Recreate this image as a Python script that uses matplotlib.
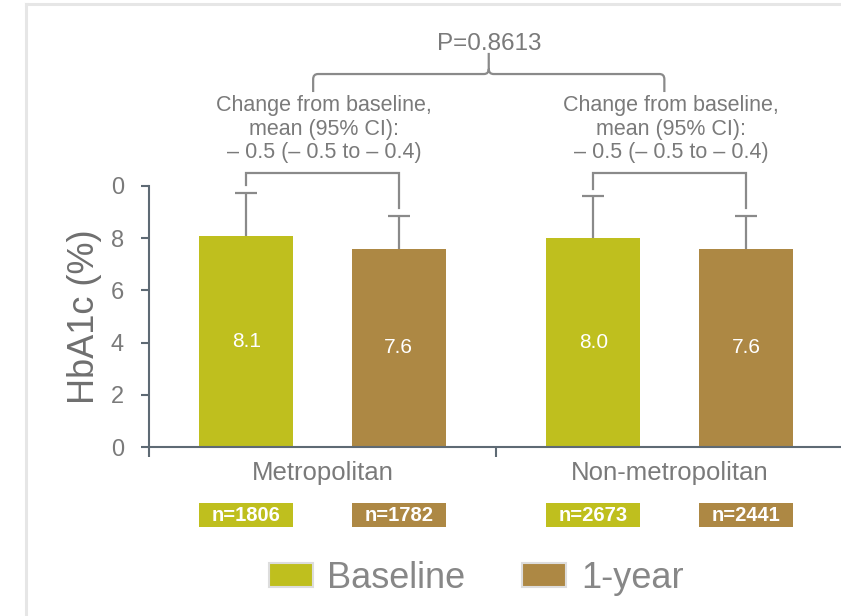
import numpy as np
import matplotlib.pyplot as plt
from matplotlib.patches import Patch, Rectangle, PathPatch
from matplotlib.path import Path
from matplotlib.lines import Line2D

plt.rcParams['font.family'] = ['Liberation Sans', 'DejaVu Sans']

# HbA1c by region, baseline vs 1 year
groups = ['Metropolitan', 'Non-metropolitan']
series = ['Baseline', '1-year']
means = [[8.1, 8.0],   # Baseline
         [7.6, 7.6]]   # 1-year
upper_err = [[1.63, 1.6],
             [1.25, 1.25]]
n_labels = [['n=1806', 'n=2673'],
            ['n=1782', 'n=2441']]
change_text = ['Change from baseline,\nmean (95% CI):\n\u2013 0.5 (\u2013 0.5 to \u2013 0.4)',
               'Change from baseline,\nmean (95% CI):\n\u2013 0.5 (\u2013 0.5 to \u2013 0.4)']
p_text = 'P=0.8613'
yticks = [0, 2, 4, 6, 8, 10]
ytick_labels = ['0', '2', '4', '6', '8', '0']

colors = ['#BFBF1E', '#AD8844']
gray = '#7A7A7A'
line_gray = '#8A8A8A'
spine = '#5E6A74'

fig = plt.figure(figsize=(8.41, 6.16), dpi=100)
ax = fig.add_axes([149 / 841, 169 / 616, 1 - 149 / 841, 261 / 616])

x = np.arange(len(groups))
offset = 0.22
width = 0.27

for i, s in enumerate(series):
    pos = x + (2 * i - 1) * offset
    ax.bar(pos, means[i], width, color=colors[i], zorder=2)
    _, caps, _ = ax.errorbar(pos, means[i],
                             yerr=[np.zeros(len(groups)), upper_err[i]],
                             fmt='none', ecolor=line_gray, elinewidth=1.6,
                             capsize=8, capthick=1.6, zorder=1)
    caps[0].set_visible(False)  # only the upper whisker gets a cap
    for j in range(len(groups)):
        ax.text(pos[j], means[i][j] / 2, f'{means[i][j]:.1f}', color='white',
                ha='center', va='center', fontsize=15)
        # sample size tag under the axis
        ax.add_patch(Rectangle((pos[j] - width / 2, -3.07), width, 0.92,
                               facecolor=colors[i], edgecolor='none',
                               clip_on=False))
        ax.text(pos[j], -2.61, n_labels[i][j], color='white', ha='center',
                va='center', fontsize=14.5, fontweight='bold', clip_on=False)

# brackets joining baseline and 1-year in each group
for j in range(len(groups)):
    xl, xr = x[j] - offset, x[j] + offset
    yl = means[0][j] + upper_err[0][j] + 0.3
    yr = means[1][j] + upper_err[1][j] + 0.3
    ax.plot([xl, xl, xr, xr], [yl, 10.5, 10.5, yr], color=line_gray,
            lw=1.6, clip_on=False, solid_joinstyle='miter')
    ax.text(x[j] + 0.005, 12.18, change_text[j], ha='center', va='center',
            fontsize=15.5, color=gray, linespacing=1.17, clip_on=False)

# curly brace over both groups
x0, x1 = x[0] - 0.027, x[1] - 0.015
xm = (x0 + x1) / 2
yb, yh, ytop = 13.6, 14.29, 15.1
dx, dy = 0.014, 0.2
verts = [(x0, yb), (x0, yh - dy), (x0, yh), (x0 + dx, yh),
         (xm - dx, yh), (xm, yh), (xm, yh + dy), (xm, ytop),
         (x1, yb), (x1, yh - dy), (x1, yh), (x1 - dx, yh),
         (xm + dx, yh), (xm, yh), (xm, yh + dy)]
codes = [Path.MOVETO, Path.LINETO, Path.CURVE3, Path.CURVE3,
         Path.LINETO, Path.CURVE3, Path.CURVE3, Path.LINETO,
         Path.MOVETO, Path.LINETO, Path.CURVE3, Path.CURVE3,
         Path.LINETO, Path.CURVE3, Path.CURVE3]
ax.add_patch(PathPatch(Path(verts, codes), facecolor='none',
                       edgecolor=line_gray, lw=1.6, clip_on=False))
ax.text(xm + 0.0, 15.44, p_text, ha='center', va='center', fontsize=17.5,
        color=gray, clip_on=False)

ax.set_xlim(-0.5, 1.494)
ax.set_ylim(0, 10)
ax.set_yticks(yticks)
ax.set_yticklabels(ytick_labels)
ax.set_xticks(x)
ax.set_xticklabels(groups)
ax.set_xticks([-0.5, 0.5], minor=True)
ax.tick_params(axis='x', which='major', length=0, pad=10, labelsize=18.5,
               labelcolor=gray)
ax.tick_params(axis='x', which='minor', length=7, width=1.5, color=spine,
               direction='out')
ax.tick_params(axis='y', length=6, width=1.5, color=spine, pad=12,
               labelsize=17, labelcolor=gray)
ax.set_ylabel('HbA1c (%)', fontsize=26, color='#6F6F6F', labelpad=6)

for side in ['top', 'right']:
    ax.spines[side].set_visible(False)
for side in ['left', 'bottom']:
    ax.spines[side].set_color(spine)
    ax.spines[side].set_linewidth(1.5)

handles = [Patch(facecolor=c, edgecolor='#DDDDDD', lw=1.5) for c in colors]
fig.legend(handles, series, loc='center', bbox_to_anchor=(476 / 841, 38 / 616),
           ncol=2, frameon=False, fontsize=26, labelcolor='#878787',
           handlelength=1.22, handleheight=0.64, handletextpad=0.4,
           columnspacing=1.58)

# light frame along the top and left edge
fig.add_artist(Line2D([26 / 841, 1], [1 - 4 / 616, 1 - 4 / 616],
                      color='#E6E6E6', lw=2.2))
fig.add_artist(Line2D([26 / 841, 26 / 841], [0, 1 - 4 / 616],
                      color='#E6E6E6', lw=2.2))

fig.savefig('out.png', dpi=100)
